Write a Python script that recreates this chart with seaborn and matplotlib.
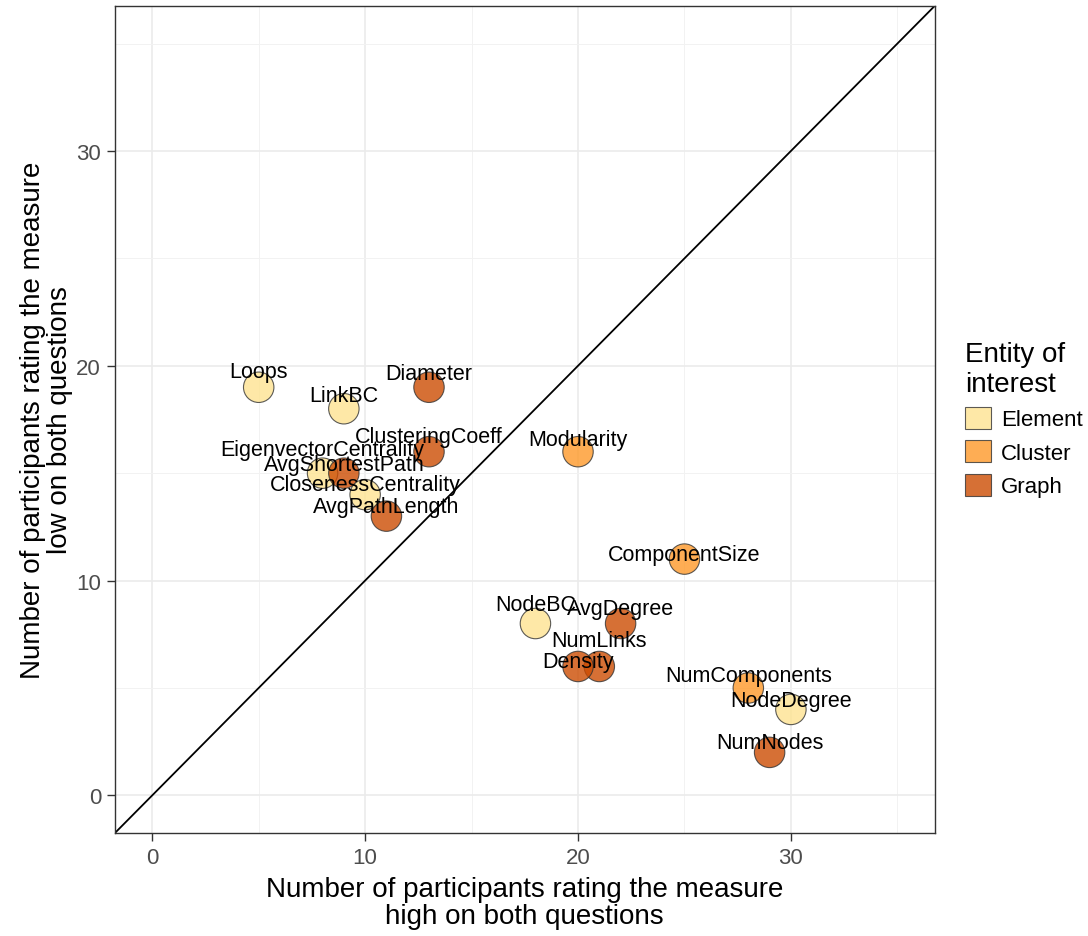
import pandas as pd
import seaborn as sns
import matplotlib.pyplot as plt
from matplotlib.patches import Patch

# measures, counts
measures = ['Loops', 'LinkBC', 'Diameter', 'ClusteringCoeff', 'EigenvectorCentrality',
            'AvgShortestPath', 'ClosenessCentrality', 'AvgPathLength', 'Modularity',
            'ComponentSize', 'NodeBC', 'AvgDegree', 'NumLinks', 'Density',
            'NumComponents', 'NodeDegree', 'NumNodes']
high_both = [5, 9, 13, 13, 8, 9, 10, 11, 20, 25, 18, 22, 21, 20, 28, 30, 29]
low_both = [19, 18, 19, 16, 15, 15, 14, 13, 16, 11, 8, 8, 6, 6, 5, 4, 2]
entity = ['Element', 'Element', 'Graph', 'Graph', 'Element', 'Graph', 'Element', 'Graph',
          'Cluster', 'Cluster', 'Element', 'Graph', 'Graph', 'Graph', 'Cluster', 'Element', 'Graph']
entity_levels = ['Element', 'Cluster', 'Graph']
# vertical jitter of the text labels (as drawn in the original)
label_dy = [0.75, 0.6, 0.65, 0.7, 1.1, 0.4, 0.45, 0.45, 0.55, 0.2, 0.9, 0.7, 1.2, 0.25, 0.6, 0.4, 0.45]

df = pd.DataFrame({'measure': measures, 'high': high_both, 'low': low_both, 'entity': entity})
palette = dict(zip(entity_levels, ['#FEE391', '#FE9929', '#CC4C02']))

sns.set_theme(style='whitegrid')
plt.rcParams['font.family'] = ['Liberation Sans', 'DejaVu Sans']

fig = plt.figure(figsize=(10.88, 9.37), dpi=100)
ax = fig.add_axes([0.1057, 0.110, 0.7533, 0.8825])

ax.axline((0, 0), slope=1, color='black', lw=1.3, zorder=1)
sns.scatterplot(data=df, x='high', y='low', hue='entity', hue_order=entity_levels,
                palette=palette, s=480, alpha=0.8, edgecolor='#333333', linewidth=0.8,
                legend=False, ax=ax, zorder=3)

for name, x, y, dy in zip(measures, high_both, low_both, label_dy):
    ax.text(x, y + dy, name, ha='center', va='center', fontsize=15.5, color='black', zorder=4)

ax.set_xlim(-1.75, 36.75)
ax.set_ylim(-1.75, 36.75)
ax.set_xticks([0, 10, 20, 30])
ax.set_yticks([0, 10, 20, 30])
ax.set_xticks([5, 15, 25, 35], minor=True)
ax.set_yticks([5, 15, 25, 35], minor=True)
ax.grid(which='major', color='#EBEBEB', lw=1.2)
ax.grid(which='minor', color='#F2F2F2', lw=0.7)
ax.set_facecolor('white')
for sp in ax.spines.values():
    sp.set_color('#333333')
    sp.set_linewidth(1.0)
ax.tick_params(axis='both', which='major', length=6, width=1.0, color='#333333',
               bottom=True, left=True, labelsize=16, labelcolor='#4D4D4D', pad=4)
ax.tick_params(axis='both', which='minor', length=0)

ax.set_xlabel('Number of participants rating the measure\nhigh on both questions',
              fontsize=20, color='black', labelpad=6, linespacing=1.05)
ax.set_ylabel('Number of participants rating the measure\nlow on both questions',
              fontsize=20, color='black', labelpad=2, linespacing=1.05)

handles = [Patch(facecolor=palette[k], alpha=0.8, edgecolor='#333333', lw=0.8) for k in entity_levels]
leg = fig.legend(handles, entity_levels, title='Entity of\ninterest', loc='upper left',
                 bbox_to_anchor=(0.879, 0.645), frameon=False, fontsize=16,
                 title_fontsize=20, handlelength=1.15, handleheight=1.15,
                 handletextpad=0.45, labelspacing=0.45, borderaxespad=0)
leg._legend_box.align = 'left'
leg.get_title().set_color('black')
for t in leg.get_texts():
    t.set_color('black')

fig.savefig('out.png', dpi=100)
